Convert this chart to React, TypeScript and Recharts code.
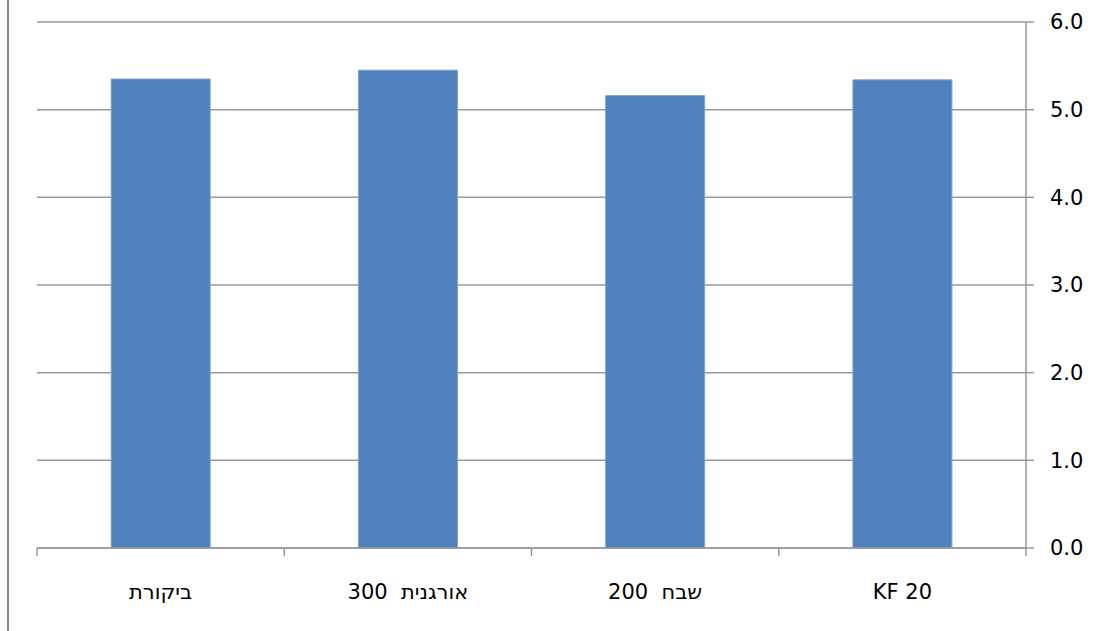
import React from 'react';
import { BarChart, Bar, XAxis, YAxis, CartesianGrid } from 'recharts';

const categories = ['ביקורת', 'אורגנית  300', 'שבח  200', 'KF 20'];
const values = [5.35, 5.45, 5.16, 5.34];
const yTicks = [0, 1, 2, 3, 4, 5, 6];

const data = categories.map((c, i) => ({ name: c, value: values[i] }));

const FONT = '"DejaVu Sans", Verdana, sans-serif';
const GRID = '#999';
const TICK_LEN = 8;
const hasHebrew = (s: string) => /[\u0590-\u05FF]/.test(s);

const CategoryTick = (props: any) => {
  const { x, y, payload, index, visibleTicksCount, width } = props;
  const label = String(payload.value);
  const rtl = hasHebrew(label);
  const half =
    payload && typeof payload.offset === 'number' && payload.offset > 0
      ? payload.offset
      : width / (visibleTicksCount || categories.length) / 2;
  const isLast = index === (visibleTicksCount || categories.length) - 1;
  return (
    <g>
      <line x1={x - half} x2={x - half} y1={y - TICK_LEN} y2={y} stroke={GRID} strokeWidth={1.5} />
      {isLast && (
        <line x1={x + half} x2={x + half} y1={y - TICK_LEN} y2={y} stroke={GRID} strokeWidth={1.5} />
      )}
      <text
        x={x}
        y={y}
        dy={43}
        textAnchor="middle"
        fontFamily={FONT}
        fontSize={21}
        fill="#000"
        direction={rtl ? 'rtl' : 'ltr'}
        style={{ whiteSpace: 'pre', direction: rtl ? 'rtl' : 'ltr', unicodeBidi: 'embed' }}
      >
        {label}
      </text>
    </g>
  );
};

export default function App() {
  return (
    <div style={{ position: 'absolute', left: 0, top: 0, width: 1110, height: 631, background: '#fff' }}>
      <div style={{ position: 'absolute', left: 7, top: 0, width: 2, height: 631, background: '#888' }} />
      <BarChart
        width={1110}
        height={631}
        data={data}
        margin={{ top: 22, right: 0, bottom: 0, left: 37 }}
        barCategoryGap="30%"
      >
        <CartesianGrid vertical={false} horizontal stroke={GRID} strokeWidth={1.5} />
        <XAxis
          dataKey="name"
          type="category"
          height={83}
          axisLine={{ stroke: GRID, strokeWidth: 1.5 }}
          tickLine={false}
          tickSize={TICK_LEN}
          tickMargin={0}
          tick={<CategoryTick />}
          interval={0}
        />
        <YAxis
          orientation="right"
          width={84}
          domain={[0, 6]}
          ticks={yTicks}
          tickFormatter={(v: number) => v.toFixed(1)}
          axisLine={{ stroke: GRID, strokeWidth: 1.5 }}
          tickLine={{ stroke: GRID, strokeWidth: 1.5 }}
          tickSize={TICK_LEN}
          tickMargin={16}
          tick={{ fontFamily: FONT, fontSize: 21, fill: '#000' }}
          interval={0}
        />
        <Bar
          dataKey="value"
          fill="#4F81BD"
          stroke="#7FA2D0"
          strokeWidth={1}
          isAnimationActive={false}
        />
      </BarChart>
    </div>
  );
}
